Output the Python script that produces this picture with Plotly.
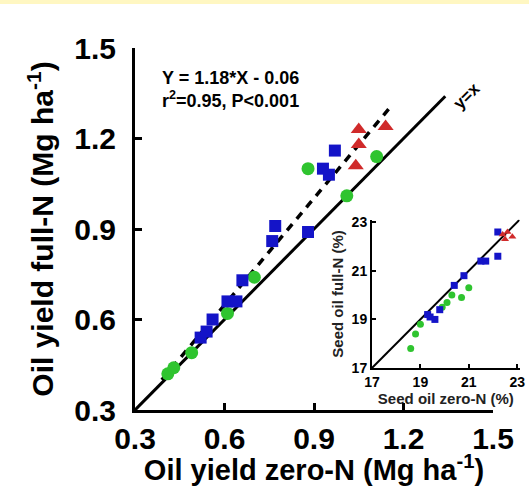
import plotly.graph_objects as go

# ---- main panel data (Oil yield, Mg ha-1) ----
green_x = [0.41, 0.43, 0.49, 0.61, 0.70, 0.88, 1.01, 1.11]
green_y = [0.42, 0.44, 0.49, 0.62, 0.74, 1.10, 1.01, 1.14]
blue_x = [0.52, 0.54, 0.56, 0.61, 0.64, 0.66, 0.76, 0.77, 0.88, 0.93, 0.95, 0.97]
blue_y = [0.54, 0.56, 0.60, 0.66, 0.66, 0.73, 0.86, 0.91, 0.89, 1.10, 1.08, 1.16]
red_x = [1.04, 1.05, 1.05, 1.14]
red_y = [1.11, 1.18, 1.23, 1.24]

fit_slope = 1.18
fit_intercept = -0.06
fit_x = [0.39, 1.15]
one_to_one = [0.3, 1.34]

main_ticks = [0.3, 0.6, 0.9, 1.2, 1.5]
main_ticktext = ["0.3", "0.6", "0.9", "1.2", "1.5"]

# ---- inset data (Seed oil, %) ----
in_green_x = [18.6, 18.8, 19.0, 19.9, 20.1, 20.3, 20.7, 21.0]
in_green_y = [17.8, 18.4, 18.8, 19.5, 19.7, 20.0, 19.9, 20.3]
in_blue_x = [19.3, 19.4, 19.6, 19.8, 20.4, 20.8, 21.5, 21.7, 22.2, 22.2]
in_blue_y = [19.2, 19.1, 19.0, 19.4, 20.4, 20.8, 21.4, 21.4, 21.6, 22.6]
in_red_x = [22.4, 22.6, 22.8, 22.5]
in_red_y = [22.5, 22.6, 22.4, 22.3]
in_one_to_one = [17, 23.1]
inset_ticks = [17, 19, 21, 23]

GREEN = "#2fc42f"
BLUE = "#1414c8"
RED = "#d02a2a"
FONT = "Arial, Liberation Sans, sans-serif"

fig = go.Figure()

# main reference lines
fig.add_trace(go.Scatter(x=one_to_one, y=one_to_one, mode="lines",
                         line=dict(color="black", width=3), showlegend=False))
fig.add_trace(go.Scatter(x=fit_x, y=[fit_slope * v + fit_intercept for v in fit_x],
                         mode="lines", line=dict(color="black", width=3.5, dash="8px,7px"),
                         showlegend=False))
# main markers
fig.add_trace(go.Scatter(x=green_x, y=green_y, mode="markers",
                         marker=dict(symbol="circle", size=13, color=GREEN), showlegend=False))
fig.add_trace(go.Scatter(x=blue_x, y=blue_y, mode="markers",
                         marker=dict(symbol="square", size=12, color=BLUE), showlegend=False))
fig.add_trace(go.Scatter(x=red_x, y=red_y, mode="markers",
                         marker=dict(symbol="triangle-up", size=14, color=RED), showlegend=False))

# inset
fig.add_trace(go.Scatter(x=in_one_to_one, y=in_one_to_one, mode="lines", xaxis="x2", yaxis="y2",
                         line=dict(color="black", width=2), showlegend=False))
fig.add_trace(go.Scatter(x=in_green_x, y=in_green_y, mode="markers", xaxis="x2", yaxis="y2",
                         marker=dict(symbol="circle", size=7, color=GREEN), showlegend=False))
fig.add_trace(go.Scatter(x=in_blue_x, y=in_blue_y, mode="markers", xaxis="x2", yaxis="y2",
                         marker=dict(symbol="square", size=7, color=BLUE), showlegend=False))
fig.add_trace(go.Scatter(x=in_red_x, y=in_red_y, mode="markers", xaxis="x2", yaxis="y2",
                         marker=dict(symbol="triangle-up", size=7, color=RED), showlegend=False))

W, H = 529, 486
ml, mr, mt, mb = 135, 8, 48, 76
pw = W - ml - mr  # 386
ph = H - mt - mb  # 362

main_axis = dict(
    showline=True, linewidth=3, linecolor="black", mirror=False,
    showgrid=False, zeroline=False,
    ticks="inside", ticklen=7, tickwidth=3, tickcolor="black",
    tickfont=dict(family=FONT, size=30, color="black", weight="bold"),
    range=[0.3, 1.5], tickvals=main_ticks, ticktext=main_ticktext,
)
inset_axis = dict(
    showline=True, linewidth=2, linecolor="black", mirror=False,
    showgrid=False, zeroline=False,
    ticks="inside", ticklen=4, tickwidth=2, tickcolor="black",
    tickfont=dict(family=FONT, size=14, color="black", weight="bold"),
    range=[17, 23.1], tickvals=inset_ticks, ticktext=[str(t) for t in inset_ticks],
)

fig.update_layout(
    width=W, height=H,
    margin=dict(l=ml, r=mr, t=mt, b=mb, autoexpand=False),
    paper_bgcolor="white", plot_bgcolor="rgba(0,0,0,0)",
    font=dict(family=FONT, color="black"),
    xaxis=dict(main_axis, domain=[0, 358 / pw], anchor="y",
               title=dict(text="Oil yield zero-N (Mg ha<sup>-1</sup>)", standoff=12,
                          font=dict(family=FONT, size=29, color="black", weight="bold"))),
    yaxis=dict(main_axis, domain=[0, 1], anchor="x", ticklabelstandoff=10,
               title=dict(text="Oil yield full-N (Mg ha<sup>-1</sup>)", standoff=12,
                          font=dict(family=FONT, size=30, color="black", weight="bold"))),
    xaxis2=dict(inset_axis, domain=[(372 - ml) / pw, (519.6 - ml) / pw], anchor="y2",
                title=dict(text="Seed oil zero-N (%)", standoff=0,
                           font=dict(family=FONT, size=15, color="#222222", weight="bold"))),
    yaxis2=dict(inset_axis, domain=[(410 - 368) / ph, (410 - 219.8) / ph], anchor="x2",
                title=dict(text="Seed oil full-N (%)", standoff=4,
                           font=dict(family=FONT, size=15, color="#222222", weight="bold"))),
    showlegend=False,
)

fig.add_annotation(x=(160 - ml) / pw, y=(410 - 78) / ph, xref="paper", yref="paper",
                   xanchor="left", yanchor="middle",
                   text="Y = 1.18*X - 0.06", showarrow=False,
                   font=dict(family=FONT, size=18, color="black", weight="bold"))
fig.add_annotation(x=(160 - ml) / pw, y=(410 - 100) / ph, xref="paper", yref="paper",
                   xanchor="left", yanchor="middle",
                   text="r<sup>2</sup>=0.95, P<0.001", showarrow=False,
                   font=dict(family=FONT, size=18, color="black", weight="bold"))
fig.add_annotation(x=1.41, y=1.34, xref="x", yref="y", text="y=x", showarrow=False,
                   textangle=-45, font=dict(family=FONT, size=17, color="black", weight="bold"))
fig.add_annotation(x=23.25, y=23.35, xref="x2", yref="y2", text="y=x", showarrow=False,
                   textangle=-45, font=dict(family=FONT, size=9, color="black", weight="bold"))

# thin yellow strip at the very top of the picture
fig.add_shape(type="rect", xref="paper", yref="paper",
              x0=-ml / pw, x1=1 + mr / pw, y0=1 + (mt - 4) / ph, y1=1 + mt / ph,
              line=dict(width=0), fillcolor="#fff7c2", layer="below")

fig.write_html("out.html")
